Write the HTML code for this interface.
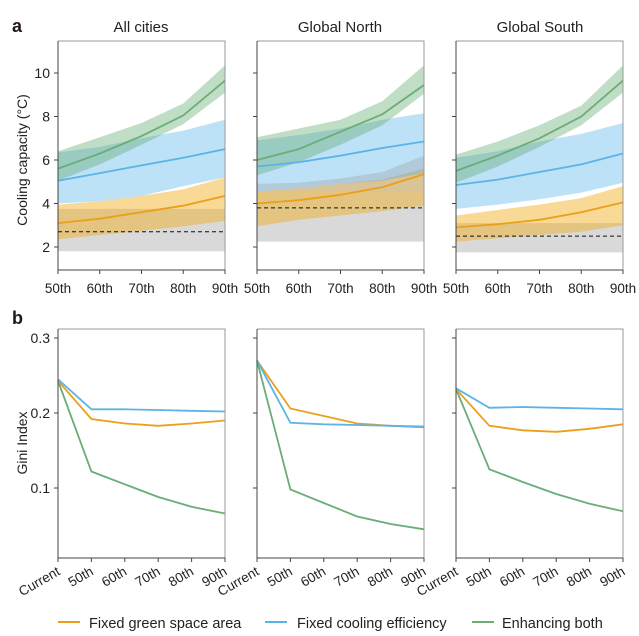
<!DOCTYPE html>
<html><head><meta charset="utf-8"><style>
body{margin:0;background:#fff}
svg{display:block;font-family:"Liberation Sans",Arial,sans-serif}
</style></head><body>
<svg id="s" width="639" height="636" viewBox="0 0 639 636" xmlns="http://www.w3.org/2000/svg">
<text x="12" y="32" font-size="18" font-weight="bold" fill="#231815">a</text>
<text x="12" y="324" font-size="18" font-weight="bold" fill="#231815">b</text>
<text x="141" y="32" font-size="15" text-anchor="middle" fill="#222">All cities</text>
<text x="340" y="32" font-size="15" text-anchor="middle" fill="#222">Global North</text>
<text x="540" y="32" font-size="15" text-anchor="middle" fill="#222">Global South</text>
<text transform="translate(27,160) rotate(-90)" font-size="14" text-anchor="middle" fill="#222">Cooling capacity (°C)</text>
<text transform="translate(27,443) rotate(-90)" font-size="14" text-anchor="middle" fill="#222">Gini Index</text>
<line x1="58" y1="622" x2="80" y2="622" stroke="#eba01a" stroke-width="2"/>
<text x="89" y="628" font-size="14.5" fill="#222">Fixed green space area</text>
<line x1="265" y1="622" x2="287" y2="622" stroke="#5ab4e8" stroke-width="2"/>
<text x="297" y="628" font-size="14.5" fill="#222">Fixed cooling efficiency</text>
<line x1="472" y1="622" x2="494" y2="622" stroke="#6aad76" stroke-width="2"/>
<text x="502" y="628" font-size="14.5" fill="#222">Enhancing both</text>
<g id="g"></g>
</svg>
<script>
const g=document.getElementById('g');let h='';
const X0=[58,257,456],W=167;
const ya=v=>247-(v-2)*21.75, yb=v=>413-(v-0.2)*750;
const A=[
{grey:[[1.8,1.8,1.8,1.8,1.8],[3.75,3.75,3.75,3.75,3.75]],dash:2.7,
 gl:[5.6,6.3,7.1,8.05,9.65],gu:[6.4,7.05,7.7,8.6,10.35],gd:[5.05,5.8,6.7,7.65,9.1],
 bl:[5.05,5.4,5.75,6.1,6.5],bu:[6.35,6.6,7.0,7.35,7.85],bd:[4.0,4.1,4.35,4.8,5.2],
 ol:[3.1,3.3,3.6,3.9,4.35],ou:[3.95,4.1,4.35,4.65,5.2],od:[2.35,2.55,2.75,2.95,3.2]},
{grey:[[2.25,2.25,2.25,2.25,2.25],[4.55,4.55,4.55,4.55,4.55]],grey2:[[4.55,4.55,4.55,4.55,4.55],[4.9,4.95,5.15,5.45,6.2]],dash:3.8,
 gl:[6.0,6.5,7.3,8.1,9.45],gu:[7.05,7.45,7.85,8.7,10.35],gd:[5.3,5.9,6.7,7.6,9.05],
 bl:[5.7,5.9,6.2,6.55,6.85],bu:[6.9,7.15,7.45,7.85,8.15],bd:[4.55,4.7,4.9,5.05,5.4],
 ol:[4.0,4.15,4.4,4.75,5.35],ou:[4.55,4.7,4.9,5.1,5.6],od:[2.95,3.25,3.45,3.65,3.9]},
{grey:[[1.75,1.75,1.75,1.75,1.75],[3.1,3.1,3.1,3.1,3.1]],dash:2.5,
 gl:[5.5,6.2,7.0,8.0,9.65],gu:[6.25,6.85,7.6,8.5,10.35],gd:[4.95,5.7,6.6,7.6,9.1],
 bl:[4.85,5.1,5.45,5.8,6.3],bu:[6.1,6.4,6.85,7.2,7.7],bd:[3.75,3.95,4.2,4.5,4.95],
 ol:[2.9,3.05,3.25,3.6,4.05],ou:[3.45,3.7,3.95,4.25,4.8],od:[2.25,2.4,2.55,2.7,3.0]}];
const B=[
{o:[.243,.192,.186,.183,.186,.19],b:[.245,.205,.205,.204,.203,.202],g:[.243,.122,.105,.088,.075,.066]},
{o:[.27,.206,.196,.186,.183,.181],b:[.27,.187,.185,.184,.183,.182],g:[.27,.098,.08,.062,.052,.045]},
{o:[.232,.183,.177,.175,.179,.185],b:[.233,.207,.208,.207,.206,.205],g:[.232,.125,.108,.092,.079,.069]}];
function band(x0,n,lo,up,f,fill){let p=[];for(let i=0;i<n;i++)p.push((x0+i*W/(n-1)).toFixed(1)+','+f(up[i]).toFixed(1));for(let i=n-1;i>=0;i--)p.push((x0+i*W/(n-1)).toFixed(1)+','+f(lo[i]).toFixed(1));return `<polygon points="${p.join(' ')}" fill="${fill}"/>`;}
function line(x0,n,v,f,c){let p=v.map((a,i)=>(x0+i*W/(n-1)).toFixed(1)+','+f(a).toFixed(1));return `<polyline points="${p.join(' ')}" fill="none" stroke="${c}" stroke-width="1.8"/>`;}
const OC='#eba01a',BC='#5ab4e8',GC='#6aad76';
const labs=['50th','60th','70th','80th','90th'],labs2=['Current','50th','60th','70th','80th','90th'];
for(let k=0;k<3;k++){const x0=X0[k],d=A[k];
 h+=band(x0,5,d.grey[0],d.grey[1],ya,'#d9d9d9');
 h+=band(x0,5,d.od,d.ou,ya,'rgba(240,170,20,0.45)');
 h+=band(x0,5,d.bd,d.bu,ya,'rgba(90,180,232,0.4)');
 if(d.grey2)h+=band(x0,5,d.grey2[0],d.grey2[1],ya,'rgba(150,150,150,0.3)');
 h+=band(x0,5,d.gd,d.gu,ya,'rgba(106,173,118,0.42)');
 h+=`<line x1="${x0}" y1="${ya(d.dash)}" x2="${x0+W}" y2="${ya(d.dash)}" stroke="#111" stroke-width="1" stroke-dasharray="4,3"/>`;
 h+=line(x0,5,d.ol,ya,OC)+line(x0,5,d.bl,ya,BC)+line(x0,5,d.gl,ya,GC);
 h+=`<path d="M${x0},41H${x0+W}V270" fill="none" stroke="#999" stroke-width="1"/><path d="M${x0},41V270H${x0+W}" fill="none" stroke="#444" stroke-width="1"/>`;
 [2,4,6,8,10].forEach(v=>{h+=`<line x1="${x0-4}" x2="${x0}" y1="${ya(v)}" y2="${ya(v)}" stroke="#444"/>`;if(k==0)h+=`<text x="${x0-8}" y="${ya(v)+5}" font-size="14" text-anchor="end" fill="#222">${v}</text>`;});
 labs.forEach((t,i)=>{const x=x0+i*W/4;h+=`<line x1="${x}" x2="${x}" y1="270" y2="274" stroke="#444"/><text x="${x}" y="293" font-size="13.5" text-anchor="middle" fill="#222">${t}</text>`;});
 const e=B[k];
 h+=line(x0,6,e.g,yb,GC)+line(x0,6,e.o,yb,OC)+line(x0,6,e.b,yb,BC);
 h+=`<path d="M${x0},329H${x0+W}V558" fill="none" stroke="#999" stroke-width="1"/><path d="M${x0},329V558H${x0+W}" fill="none" stroke="#444" stroke-width="1"/>`;
 [0.1,0.2,0.3].forEach(v=>{h+=`<line x1="${x0-4}" x2="${x0}" y1="${yb(v)}" y2="${yb(v)}" stroke="#444"/>`;if(k==0)h+=`<text x="${x0-8}" y="${yb(v)+5}" font-size="14" text-anchor="end" fill="#222">${v}</text>`;});
 labs2.forEach((t,i)=>{const x=x0+i*W/5;h+=`<line x1="${x}" x2="${x}" y1="558" y2="562" stroke="#444"/><text transform="translate(${x+3},574) rotate(-30)" font-size="13.5" text-anchor="end" fill="#222">${t}</text>`;});
}
g.innerHTML=h;
</script>
</body></html>
